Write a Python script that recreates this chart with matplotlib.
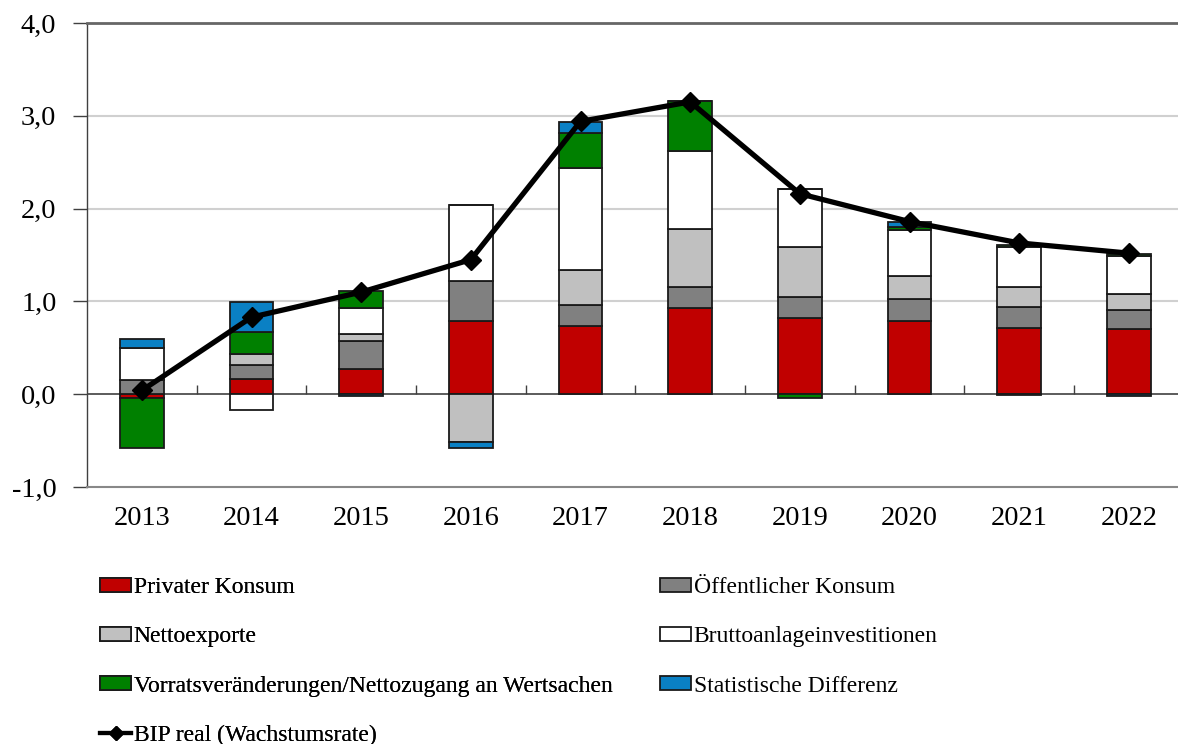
import matplotlib
matplotlib.use("Agg")
import matplotlib.pyplot as plt
import numpy as np
from matplotlib.patches import Patch
from matplotlib.lines import Line2D

years = ["2013", "2014", "2015", "2016", "2017", "2018", "2019", "2020", "2021", "2022"]
privat = [-0.04, 0.16, 0.27, 0.79, 0.73, 0.93, 0.82, 0.79, 0.71, 0.70]
oeff = [0.15, 0.16, 0.30, 0.43, 0.23, 0.23, 0.23, 0.24, 0.23, 0.21]
netto = [0.00, 0.11, 0.08, -0.52, 0.38, 0.62, 0.54, 0.24, 0.22, 0.17]
brutto = [0.35, -0.17, 0.28, 0.82, 1.10, 0.84, 0.62, 0.50, 0.43, 0.41]
vorrat = [-0.54, 0.24, 0.18, 0.00, 0.37, 0.54, -0.04, 0.03, 0.02, 0.02]
statdiff = [0.10, 0.32, -0.02, -0.06, 0.12, 0.00, 0.00, 0.06, -0.01, -0.02]
bip = [0.04, 0.83, 1.10, 1.45, 2.94, 3.15, 2.16, 1.86, 1.63, 1.52]

labels = ["Privater Konsum", "Öffentlicher Konsum", "Nettoexporte",
          "Bruttoanlageinvestitionen",
          "Vorratsveränderungen/Nettozugang an Wertsachen",
          "Statistische Differenz"]
line_label = "BIP real (Wachstumsrate)"
colors = ["#C00000", "#808080", "#C0C0C0", "#FFFFFF", "#008000", "#0A80C4"]
yticks = [-1.0, 0.0, 1.0, 2.0, 3.0, 4.0]

plt.rcParams['font.family'] = ['Liberation Serif', 'DejaVu Serif']

W, H = 1178, 744
fig = plt.figure(figsize=(W / 100, H / 100), dpi=100)
ax = fig.add_axes([87 / W, (H - 487) / H, 1096.7 / W, 464 / H])

series = [privat, oeff, netto, brutto, vorrat, statdiff]
x = np.arange(len(years))
pos_base = np.zeros(len(years))
neg_base = np.zeros(len(years))
for vals, col in zip(series, colors):
    v = np.array(vals)
    bottoms = np.where(v >= 0, pos_base, neg_base)
    ax.bar(x, v, width=0.40, bottom=bottoms, color=col, edgecolor="#1a1a1a",
           linewidth=1.3, zorder=3)
    pos_base = pos_base + np.where(v > 0, v, 0)
    neg_base = neg_base + np.where(v < 0, v, 0)

ax.plot(x, bip, color="black", linewidth=3.8, marker="D", markersize=10.5,
        zorder=5)

ax.set_xlim(-0.5, len(years) - 0.5)
ax.set_ylim(-1.0, 4.0)
ax.set_yticks(yticks)
ax.set_yticklabels([f"{t:.1f}".replace(".", ",") for t in yticks], fontsize=20.5)
ax.set_xticks(x)
ax.set_xticklabels(years, fontsize=20.5)
ax.tick_params(axis="x", length=0, pad=14)
ax.tick_params(axis="y", length=10, width=1.0, color="#404040", pad=12,
               direction="out")

for g in [1.0, 2.0, 3.0]:
    ax.axhline(g, color="#D0D0D0", linewidth=1.5, zorder=1)
ax.axhline(0, color="#404040", linewidth=1.2, zorder=2)
ax.vlines(np.arange(0.5, len(years) - 0.5, 1.0), 0, 0.1, color="#404040",
          linewidth=1.0, zorder=2)

ax.spines["right"].set_visible(False)
ax.spines["top"].set_color("#666666")
ax.spines["top"].set_linewidth(2.0)
ax.spines["bottom"].set_color("#888888")
ax.spines["bottom"].set_linewidth(1.5)
ax.spines["left"].set_color("#404040")
ax.spines["left"].set_linewidth(1.0)

handles = [Patch(facecolor=c, edgecolor="#1a1a1a", linewidth=1.3) for c in colors]
line_h = Line2D([], [], color="black", linewidth=3.0, marker="D", markersize=7)

common = dict(frameon=False, fontsize=17, handlelength=1.32, handleheight=0.55,
              handletextpad=0.1, labelspacing=1.2, borderpad=0,
              borderaxespad=0, loc="upper left")
leg1 = fig.legend([handles[0], handles[2], handles[4], line_h],
                  [labels[0], labels[2], labels[4], line_label],
                  bbox_to_anchor=(100 / W, 1 - 577 / H), **common)
fig.add_artist(leg1)
fig.legend([handles[1], handles[3], handles[5]],
           [labels[1], labels[3], labels[5]],
           bbox_to_anchor=(660 / W, 1 - 577 / H), **common)

fig.savefig("out.png", dpi=100)
